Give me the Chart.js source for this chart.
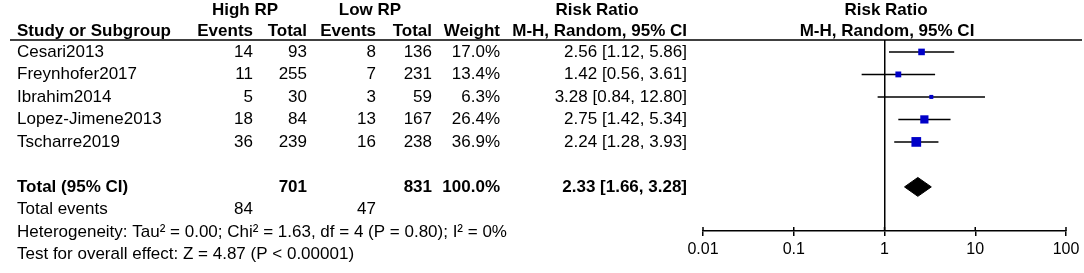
<!DOCTYPE html>
<html>
<head>
<meta charset="utf-8">
<script src="https://cdn.jsdelivr.net/npm/chart.js@4.4.0/dist/chart.umd.min.js"></script>
<style>
  html, body { margin: 0; padding: 0; background: #fff; }
  #wrap { width: 1084px; height: 273px; }
</style>
</head>
<body>
<div id="wrap"><canvas id="forestChart"></canvas></div>
<script>
// study data
const studies = ['Cesari2013', 'Freynhofer2017', 'Ibrahim2014', 'Lopez-Jimene2013', 'Tscharre2019'];
const highEvents = [14, 11, 5, 18, 36];
const highTotal = [93, 255, 30, 84, 239];
const lowEvents = [8, 7, 3, 13, 16];
const lowTotal = [136, 231, 59, 167, 238];
const weights = [17.0, 13.4, 6.3, 26.4, 36.9];
const riskRatio = [2.56, 1.42, 3.28, 2.75, 2.24];
const ciLow = [1.12, 0.56, 0.84, 1.42, 1.28];
const ciHigh = [5.86, 3.61, 12.80, 5.34, 3.93];

// pooled result
const totalHighN = 701;
const totalLowN = 831;
const totalHighEvents = 84;
const totalLowEvents = 47;
const totalWeight = 100.0;
const pooledRR = 2.33;
const pooledLow = 1.66;
const pooledHigh = 3.28;
const heterogeneityText = 'Heterogeneity: Tau² = 0.00; Chi² = 1.63, df = 4 (P = 0.80); I² = 0%';
const overallText = 'Test for overall effect: Z = 4.87 (P < 0.00001)';

const axisTicks = [0.01, 0.1, 1, 10, 100];

const TOTAL_ROW = 6;
const FONT = '"Liberation Sans", Arial, sans-serif';

function ciText(r, lo, hi) {
    return r.toFixed(2) + ' [' + lo.toFixed(2) + ', ' + hi.toFixed(2) + ']';
}

const tablePlugin = {
    id: 'forestTable',
    afterDraw(chart) {
        const ctx = chart.ctx;
        const yScale = chart.scales.y;
        const rowY = i => yScale.getPixelForValue(i);
        const top = chart.chartArea.top;

        ctx.save();
        ctx.fillStyle = '#000';
        ctx.textBaseline = 'middle';

        function txt(s, x, y, align, bold) {
            ctx.font = (bold ? 'bold ' : '') + '17px ' + FONT;
            ctx.textAlign = align || 'left';
            ctx.fillText(s, x, y);
        }

        // headers
        const h1 = rowY(-1.85), h2 = rowY(-0.9);
        txt('High RP', 245, h1, 'center', true);
        txt('Low RP', 370, h1, 'center', true);
        txt('Risk Ratio', 597, h1, 'center', true);
        txt('Risk Ratio', 886, h1, 'center', true);
        txt('Study or Subgroup', 17, h2, 'left', true);
        txt('Events', 253, h2, 'right', true);
        txt('Total', 307, h2, 'right', true);
        txt('Events', 376, h2, 'right', true);
        txt('Total', 432, h2, 'right', true);
        txt('Weight', 500, h2, 'right', true);
        txt('M-H, Random, 95% CI', 687, h2, 'right', true);
        txt('M-H, Random, 95% CI', 887, h2, 'center', true);

        ctx.strokeStyle = '#000';
        ctx.lineWidth = 1.5;
        ctx.beginPath();
        ctx.moveTo(10, top);
        ctx.lineTo(1082, top);
        ctx.stroke();

        // study rows
        studies.forEach((name, i) => {
            const y = rowY(i);
            txt(name, 17, y);
            txt(String(highEvents[i]), 253, y, 'right');
            txt(String(highTotal[i]), 307, y, 'right');
            txt(String(lowEvents[i]), 376, y, 'right');
            txt(String(lowTotal[i]), 432, y, 'right');
            txt(weights[i].toFixed(1) + '%', 500, y, 'right');
            txt(ciText(riskRatio[i], ciLow[i], ciHigh[i]), 687, y, 'right');
        });

        // totals
        let y = rowY(TOTAL_ROW);
        txt('Total (95% CI)', 17, y, 'left', true);
        txt(String(totalHighN), 307, y, 'right', true);
        txt(String(totalLowN), 432, y, 'right', true);
        txt(totalWeight.toFixed(1) + '%', 500, y, 'right', true);
        txt(ciText(pooledRR, pooledLow, pooledHigh), 687, y, 'right', true);

        y = rowY(TOTAL_ROW + 1);
        txt('Total events', 17, y);
        txt(String(totalHighEvents), 253, y, 'right');
        txt(String(totalLowEvents), 376, y, 'right');

        txt(heterogeneityText, 17, rowY(TOTAL_ROW + 2));
        txt(overallText, 17, rowY(TOTAL_ROW + 3));

        // tick marks cross the axis line, draw the upper halves
        const xScale = chart.scales.x;
        const axisY = chart.chartArea.bottom;
        ctx.lineWidth = 1.5;
        axisTicks.forEach(v => {
            const px = xScale.getPixelForValue(v);
            ctx.beginPath();
            ctx.moveTo(px, axisY - 4);
            ctx.lineTo(px, axisY);
            ctx.stroke();
        });

        ctx.restore();
    }
};

const ciDatasets = studies.map((name, i) => ({
    label: name + ' CI',
    data: [{ x: ciLow[i], y: i }, { x: ciHigh[i], y: i }],
    showLine: true,
    borderColor: '#000',
    borderWidth: 1.5,
    pointRadius: 0
}));

const squares = {
    label: 'Risk ratio',
    data: riskRatio.map((r, i) => ({ x: r, y: i })),
    pointStyle: 'rect',
    backgroundColor: '#0000c8',
    borderWidth: 0,
    pointRadius: ctx => 1.13 * Math.sqrt(weights[ctx.dataIndex])
};

const diamondTop = {
    label: 'Pooled',
    data: [{ x: pooledLow, y: TOTAL_ROW }, { x: pooledRR, y: TOTAL_ROW - 0.42 }, { x: pooledHigh, y: TOTAL_ROW }],
    showLine: true,
    borderColor: '#000',
    borderWidth: 1,
    backgroundColor: '#000',
    pointRadius: 0,
    fill: '+1'
};
const diamondBottom = {
    label: 'Pooled low',
    data: [{ x: pooledLow, y: TOTAL_ROW }, { x: pooledRR, y: TOTAL_ROW + 0.42 }, { x: pooledHigh, y: TOTAL_ROW }],
    showLine: true,
    borderColor: '#000',
    borderWidth: 1,
    pointRadius: 0,
    fill: false
};

new Chart(document.getElementById('forestChart'), {
    type: 'scatter',
    data: { datasets: [squares, diamondTop, diamondBottom, ...ciDatasets] },
    options: {
        responsive: true,
        maintainAspectRatio: false,
        animation: false,
        layout: { padding: { left: 703, right: 18, top: 40, bottom: 0 } },
        plugins: { legend: { display: false }, tooltip: { enabled: false } },
        scales: {
            x: {
                type: 'logarithmic',
                min: 0.01,
                max: 100,
                afterBuildTicks: scale => { scale.ticks = axisTicks.map(v => ({ value: v })); },
                afterFit: scale => { scale.height = 42; },
                border: { color: '#000', width: 1.5 },
                grid: {
                    color: ctx => (ctx.tick && ctx.tick.value === 1) ? '#000' : 'rgba(0,0,0,0)',
                    tickColor: '#000',
                    lineWidth: 1.5,
                    tickLength: 5
                },
                ticks: {
                    color: '#000',
                    font: { size: 16, family: FONT },
                    padding: 4,
                    autoSkip: false,
                    maxRotation: 0,
                    callback: v => String(v)
                }
            },
            y: {
                type: 'linear',
                display: false,
                reverse: true,
                min: -0.53,
                max: 7.96
            }
        }
    },
    plugins: [tablePlugin]
});
</script>
</body>
</html>
